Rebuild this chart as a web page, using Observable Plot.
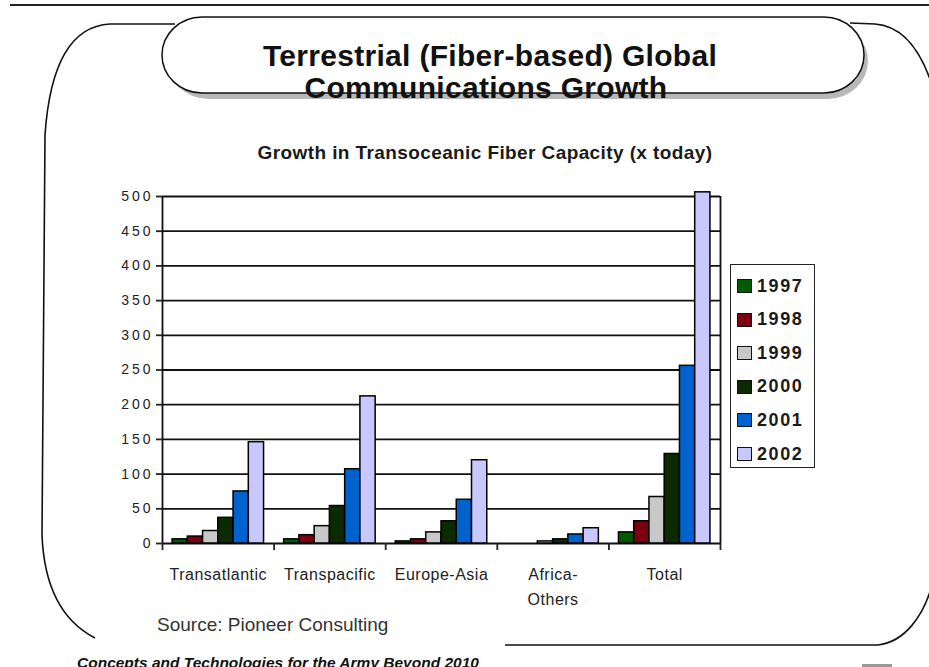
<!DOCTYPE html>
<html>
<head>
<meta charset="utf-8">
<script src="https://cdn.jsdelivr.net/npm/d3@7"></script>
<script src="https://cdn.jsdelivr.net/npm/@observablehq/plot@0.6"></script>
<style>
  html, body { margin: 0; padding: 0; background: #fff; }
  #page { position: relative; width: 929px; height: 667px; overflow: hidden;
          font-family: "Liberation Sans", Arial, sans-serif; color: #111; }
  #deco { position: absolute; left: 0; top: 0; }
  #chart { position: absolute; left: 0; top: 180px; }
  #subtitle { position: absolute; left: 0; width: 970px; top: 142px; text-align: center;
              font-weight: bold; font-size: 19px; letter-spacing: 0.4px; color: #1a1a1a; }
  #legend { position: absolute; left: 730px; top: 264px; width: 83px; height: 202px;
            border: 1.5px solid #222; background: #fff; }
  .row { position: absolute; left: 0; height: 34px; display: flex; align-items: center; }
  .sw { width: 13px; height: 12px; border: 1.5px solid #111; margin-left: 6px; }
  .lab { font-weight: bold; font-size: 18px; letter-spacing: 1.6px; margin-left: 5px; color: #1a1a1a; }
</style>
</head>
<body>
<div id="page">
  <svg id="deco" width="929" height="667">
    <!-- rule across the top of the slide -->
    <line x1="10" y1="5" x2="929" y2="5" stroke="#222" stroke-width="2"/>
    <!-- rounded frame around the chart -->
    <path d="M175,24 L110,24 C72,26 50,62 45,135 L42,535 C44,585 60,620 95,638"
          fill="none" stroke="#111" stroke-width="1.6"/>
    <path d="M850,23 L875,24 C902,26 922,48 935,95" fill="none" stroke="#111" stroke-width="1.6"/>
    <path d="M505,645 L878,645 C905,642 924,615 932,585" fill="none" stroke="#111" stroke-width="1.6"/>
    <!-- title banner -->
    <rect x="168" y="23" width="700" height="76" rx="40" ry="38" fill="#b8b8b8"/>
    <rect x="162" y="17" width="702" height="76" rx="40" ry="38" fill="#fff" stroke="#111" stroke-width="1.5"/>
    <text x="490" y="66" text-anchor="middle" font-family="Liberation Sans, Arial, sans-serif"
          font-weight="bold" font-size="30" letter-spacing="0.3" fill="#111">Terrestrial (Fiber-based) Global</text>
    <text x="486" y="98" text-anchor="middle" font-family="Liberation Sans, Arial, sans-serif"
          font-weight="bold" font-size="30" letter-spacing="0.3" fill="#111">Communications Growth</text>
    <!-- source and footer -->
    <text x="157" y="631" font-family="Liberation Sans, Arial, sans-serif" font-size="19" fill="#333">Source: Pioneer Consulting</text>
    <text x="77" y="668" font-family="Liberation Sans, Arial, sans-serif" font-size="15.5"
          font-weight="bold" font-style="italic" fill="#111">Concepts and Technologies for the Army Beyond 2010</text>
    <rect x="862" y="664" width="30" height="3" fill="#999"/>
  </svg>
  <div id="subtitle">Growth in Transoceanic Fiber Capacity (x today)</div>
  <div id="chart"></div>
  <div id="legend"></div>
</div>
<script>
// Regions along the x axis, in drawing order
const regions = ["Transatlantic", "Transpacific", "Europe-Asia", "Africa-\nOthers", "Total"];
// Series (one bar per year in each region)
const years = ["1997", "1998", "1999", "2000", "2001", "2002"];
const colors = ["#005a00", "#7a0012", "#c8c8c8", "#0c2a00", "#0062cc", "#c8c8ff"];
// Capacity growth (x today) per region, one array per year
const v1997 = [6, 6, 3, 0, 16];
const v1998 = [10, 12, 6, 0, 32];
const v1999 = [18, 25, 16, 3, 67];
const v2000 = [37, 54, 32, 6, 129];
const v2001 = [75, 107, 63, 13, 256];
const v2002 = [146, 212, 120, 22, 506];
const yTicks = [0, 50, 100, 150, 200, 250, 300, 350, 400, 450, 500];

const series = [v1997, v1998, v1999, v2000, v2001, v2002];
const rows = [];
series.forEach((vals, j) => vals.forEach((value, i) => {
  if (value > 0) rows.push({i, j, region: regions[i], year: years[j], value});
}));

// each region occupies one unit of x; bars sit side by side inside it
const pad = 0.09;
const w = (1 - 2 * pad) / years.length;
const boundaries = d3.range(regions.length + 1);
const centers = regions.map((_, i) => i + 0.5);

const chart = Plot.plot({
  width: 929,
  height: 430,
  marginLeft: 162,
  marginRight: 209,
  marginTop: 16,
  marginBottom: 67,
  style: {background: "transparent", fontFamily: "Liberation Sans, Arial, sans-serif", color: "#222"},
  x: {type: "linear", domain: [0, regions.length], axis: null},
  y: {domain: [0, 500], axis: null},
  color: {domain: years, range: colors},
  marks: [
    Plot.gridY(yTicks, {stroke: "#111", strokeOpacity: 1, strokeWidth: 1.8}),
    Plot.ruleX([0, regions.length], {y1: 0, y2: 500, stroke: "#111", strokeWidth: 1.8}),
    Plot.axisY(yTicks, {tickSize: 6, tickPadding: 3, strokeWidth: 1.8, fontSize: 14, label: null,
                        tickFormat: d => String(d)}),
    Plot.axisX(boundaries, {tickSize: 7, strokeWidth: 1.8, label: null, tickFormat: () => ""}),
    Plot.axisX(centers, {tickSize: 0, tickPadding: 19, fontSize: 16, lineHeight: 1.55, label: null,
                         tickFormat: d => regions[Math.floor(d)]}),
    Plot.rectY(rows, {
      x1: d => d.i + pad + d.j * w,
      x2: d => d.i + pad + (d.j + 1) * w,
      y1: 0,
      y2: "value",
      fill: "year",
      stroke: "#000",
      strokeWidth: 1.5
    })
  ]
});
document.getElementById("chart").append(chart);

// widen the axis lettering
d3.select(chart).selectAll('g[aria-label="y-axis tick label"] text')
  .attr("letter-spacing", "3px").attr("fill", "#222");
d3.select(chart).selectAll('g[aria-label="x-axis tick label"] text')
  .attr("letter-spacing", "0.5px").attr("fill", "#222");

// legend: one swatch per year
const legend = d3.select("#legend");
years.forEach((y, k) => {
  const row = legend.append("div").attr("class", "row").style("top", (4 + k * 33.6) + "px");
  row.append("div").attr("class", "sw").style("background", colors[k]);
  row.append("div").attr("class", "lab").text(y);
});
</script>
</body>
</html>
